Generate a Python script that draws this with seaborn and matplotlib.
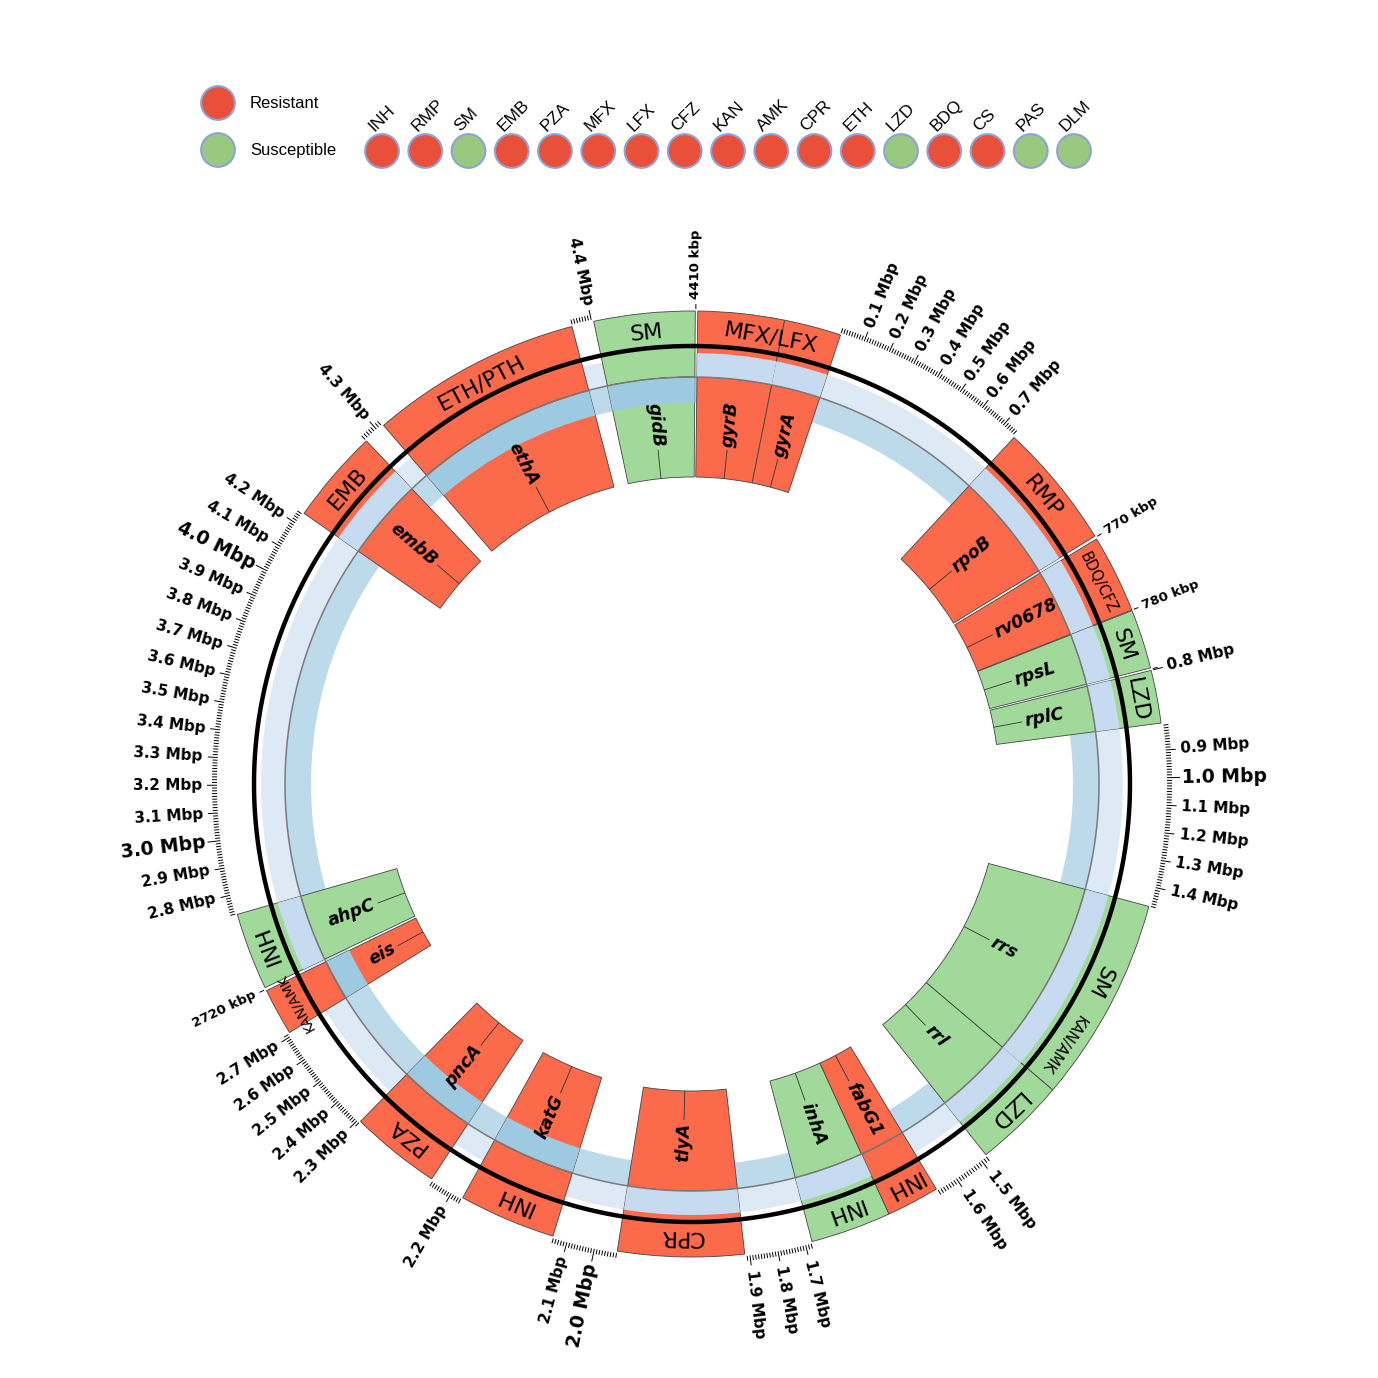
import numpy as np
import pandas as pd
import matplotlib
matplotlib.use("Agg")
import matplotlib.pyplot as plt
import seaborn as sns

sns.set_theme(style="white")
plt.rcParams["font.family"] = ["DejaVu Sans"]
plt.rcParams["text.color"] = "black"

GENOME_LEN = 4411532

# resistance genes (H37Rv coordinates) and the call for each
gene_names = ["gyrB", "gyrA", "rpoB", "rv0678", "rpsL", "rplC", "rrs", "rrl",
              "fabG1", "inhA", "tlyA", "katG", "pncA", "eis", "ahpC", "embB",
              "ethA", "gidB"]
gene_start = [5240, 7302, 759807, 778990, 781560, 800809, 1471846, 1473658,
              1673440, 1674202, 1917940, 2153889, 2288681, 2714124, 2726193,
              4246514, 4326004, 4407528]
gene_end = [7267, 9818, 763325, 779487, 781934, 801462, 1473382, 1476795,
            1674183, 1675011, 1918746, 2156111, 2289241, 2715332, 2726780,
            4249810, 4327473, 4408202]
gene_status = ["R", "R", "R", "R", "S", "S", "S", "S", "R", "S", "R", "R",
               "R", "R", "S", "R", "R", "S"]

# zoomed ideogram layout: where each gene segment sits (deg clockwise from top)
gene_deg_start = [0.7, 11.3, 42.9, 58.8, 68.5, 76.1, 105.0, 130.3, 148.9, 155.4,
                  173.6, 197.1, 213.4, 238.3, 244.5, 304.9, 319.3, 348.0]
gene_deg_end = [11.3, 18.3, 58.4, 68.4, 75.8, 82.6, 130.3, 141.6, 155.4, 165.3,
                189.1, 209.0, 224.5, 244.1, 254.0, 316.5, 345.3, 360.4]

# which inner track covers each gene
gene_light_track = [1, 1, 1, 1, 1, 1, 1, 1, 0, 1, 1, 0, 0, 0, 1, 1, 0, 0]
gene_dark_track = [0, 0, 0, 0, 0, 0, 0, 0, 0, 0, 0, 1, 1, 1, 0, 0, 1, 1]

# drug labels of the outer band (first gene, last gene, position along them)
drug_text = ["MFX/LFX", "RMP", "BDQ/CFZ", "SM", "LZD", "SM", "KAN/AMK", "LZD",
             "INH", "INH", "CPR", "INH", "PZA", "KAN/AMK", "INH", "EMB",
             "ETH/PTH", "SM"]
drug_gene_from = ["gyrB", "rpoB", "rv0678", "rpsL", "rplC", "rrs", "rrs", "rrl",
                  "fabG1", "inhA", "tlyA", "katG", "pncA", "eis", "ahpC", "embB",
                  "ethA", "gidB"]
drug_gene_to = ["gyrA", "rpoB", "rv0678", "rpsL", "rplC", "rrs", "rrs", "rrl",
                "fabG1", "inhA", "tlyA", "katG", "pncA", "eis", "ahpC", "embB",
                "ethA", "gidB"]
drug_frac = [0.39, 0.5, 0.5, 0.5, 0.5, 0.43, 0.79, 0.5, 0.5, 0.5, 0.5, 0.5,
             0.5, 0.5, 0.5, 0.5, 0.5, 0.5]
drug_size = [16, 16, 10.5, 16, 16, 16, 10.5, 16, 16, 16, 16, 16, 16, 10, 16,
             16, 16, 16]

# 10 kb ticks that carry a label
kbp_labelled = [770000, 780000, 2720000, 4410000]

# phenotype legend
legend_drugs = ["INH", "RMP", "SM", "EMB", "PZA", "MFX", "LFX", "CFZ", "KAN",
                "AMK", "CPR", "ETH", "LZD", "BDQ", "CS", "PAS", "DLM"]
legend_status = ["R", "R", "S", "R", "R", "R", "R", "R", "R", "R", "R", "R",
                 "S", "R", "R", "S", "S"]

RED, GREEN = "#FB6A4A", "#A1D99B"
LIGHT, DARK = "#C6DBEF", "#9ECAE1"
LIGHT_BB, DARK_BB = "#DDE9F5", "#BDDAEB"
box_col = {"R": RED, "S": GREEN}
leg_col = {"R": "#E8503A", "S": "#98C97E"}

W = 1378
CX, CY = 692, 784
RMAX = 580
R_GENE_IN, R_GENE_OUT = 307, 407
R_DARK_IN, R_LIGHT_OUT = 381, 431
R_DRUG_OUT, R_BLACK, R_TICK = 473, 438, 475

# piecewise linear position -> angle scale
anchor_bp = np.column_stack([gene_start, gene_end]).ravel().astype(float)
anchor_deg = np.column_stack([gene_deg_start, gene_deg_end]).ravel()
anchor_bp = np.append(anchor_bp, gene_start[0] + GENOME_LEN)
anchor_deg = np.append(anchor_deg, gene_deg_start[0] + 360)


def to_deg(pos):
    pos = np.asarray(pos, dtype=float)
    pos = np.where(pos < gene_start[0], pos + GENOME_LEN, pos)
    return np.interp(pos, anchor_bp, anchor_deg)


def arcs(ax, d0, d1, r0, r1, **kw):
    d0, d1 = np.asarray(d0), np.asarray(d1)
    ax.bar(np.deg2rad((d0 + d1) / 2), r1 - r0, width=np.deg2rad(d1 - d0),
           bottom=r0, align="center", **kw)


def radial_text(ax, deg, r, s, **kw):
    d = deg % 360
    if d < 180:
        rot, ha = 90 - d, "left"
    else:
        rot, ha = 270 - d, "right"
    ax.text(np.deg2rad(d), r, s, rotation=rot, ha=ha, va="center",
            rotation_mode="anchor", **kw)


genes = pd.DataFrame({"name": gene_names, "start": gene_start, "end": gene_end,
                      "status": gene_status, "light": gene_light_track,
                      "dark": gene_dark_track})
genes["d0"] = to_deg(genes["start"])
genes["d1"] = to_deg(genes["end"])
genes["color"] = genes["status"].map(box_col)

gap_start = genes["end"].values
gap_end = np.append(genes["start"].values[1:], genes["start"].values[0] + GENOME_LEN)
gd0, gd1 = to_deg(gap_start), to_deg(gap_end)

fig = plt.figure(figsize=(W / 100, W / 100), dpi=100)
ax = fig.add_axes([(CX - RMAX) / W, (W - CY - RMAX) / W, 2 * RMAX / W, 2 * RMAX / W],
                  projection="polar")
ax.set_theta_zero_location("N")
ax.set_theta_direction(-1)
ax.set_ylim(0, RMAX)
ax.set_axis_off()

# backbone (compressed) tracks
arcs(ax, gd0, gd1, R_GENE_OUT, R_LIGHT_OUT, color=LIGHT_BB, linewidth=0, zorder=1)
arcs(ax, gd0, gd1, R_DARK_IN, R_GENE_OUT, color=DARK_BB, linewidth=0, zorder=1)

# drug band and gene boxes
arcs(ax, genes["d0"], genes["d1"], R_GENE_OUT, R_DRUG_OUT, color=genes["color"],
     edgecolor="#444444", linewidth=0.6, zorder=2)
arcs(ax, genes["d0"], genes["d1"], R_GENE_IN, R_GENE_OUT, color=genes["color"],
     edgecolor="#444444", linewidth=0.6, zorder=2)

lt = genes[genes["light"] == 1]
arcs(ax, lt["d0"], lt["d1"], R_GENE_OUT, R_LIGHT_OUT, color=LIGHT, linewidth=0, zorder=3)
dk = genes[genes["dark"] == 1]
arcs(ax, dk["d0"], dk["d1"], R_DARK_IN, R_GENE_OUT - 1, color=DARK, linewidth=0, zorder=3)

circ = np.linspace(0, 2 * np.pi, 1441)
ax.plot(circ, np.full_like(circ, R_GENE_OUT), color="#7a7a7a", lw=1.1, zorder=4)
ax.plot(circ, np.full_like(circ, R_BLACK), color="black", lw=3.2, zorder=4)

# gene labels with leader lines
for _, g in genes.iterrows():
    dm = (g["d0"] + g["d1"]) / 2
    ax.vlines(np.deg2rad(dm), R_GENE_IN, 336, color="#333333", lw=0.6, zorder=5)
    radial_text(ax, dm, 339, g["name"], fontsize=12.5, fontweight="bold",
                fontstyle="italic", zorder=6)

# drug labels
gidx = {n: i for i, n in enumerate(gene_names)}
for t, g0, g1, fr, fs in zip(drug_text, drug_gene_from, drug_gene_to, drug_frac, drug_size):
    a, b = gene_start[gidx[g0]], gene_end[gidx[g1]]
    d = float(to_deg(a + fr * (b - a)))
    ax.text(np.deg2rad(d), 453, t, rotation=-d, ha="center", va="center",
            rotation_mode="anchor", fontsize=fs, zorder=6)

# ruler in the backbone gaps
tick_pos = []
for a, b in zip(gap_start, gap_end):
    p = np.arange(int(np.ceil(a / 1e4)) * 10000, b + 1, 10000)
    tick_pos.extend(list(p % GENOME_LEN))
tick_pos = np.array([p for p in tick_pos if p > 0])
major = tick_pos % 1000000 == 0
mid = tick_pos % 100000 == 0
tick_len = np.where(major, 13, np.where(mid, 10, 5))
tdeg = to_deg(tick_pos)
ax.vlines(np.deg2rad(tdeg), R_TICK, R_TICK + tick_len, color="black", lw=0.7, zorder=5)
for p, d, mj, md in zip(tick_pos, tdeg, major, mid):
    if md:
        radial_text(ax, d, 490, f"{p / 1e6:.1f} Mbp", fontsize=13.5 if mj else 11,
                    fontweight="bold")
    elif p in kbp_labelled:
        radial_text(ax, d, 485, f"{p / 1e3:.0f} kbp", fontsize=9.5, fontweight="bold")

# legend
lax = fig.add_axes([0, 0, 1, 1])
leg = pd.DataFrame({"x": 382 + 43.25 * np.arange(len(legend_drugs)),
                    "y": 151.0, "status": legend_status})
key = pd.DataFrame({"x": [218.0, 218.0], "y": [103.0, 150.0], "status": ["R", "S"]})
for df in (leg, key):
    sns.scatterplot(data=df, x="x", y="y", hue="status", palette=leg_col, s=590,
                    edgecolor="#8FA3D6", linewidth=1.5, legend=False, ax=lax)
lax.text(250, 103, "Resistant", fontsize=12, family=["Liberation Sans"], va="center")
lax.text(250, 150, "Susceptible", fontsize=12, family=["Liberation Sans"], va="center")
for x, d in zip(leg["x"], legend_drugs):
    lax.text(x - 8, 132, d, rotation=45, rotation_mode="anchor", ha="left",
             va="baseline", fontsize=12.5, family=["Liberation Sans"])
lax.set_xlim(0, W)
lax.set_ylim(W, 0)
lax.set_axis_off()

fig.savefig("out.png", dpi=100)
